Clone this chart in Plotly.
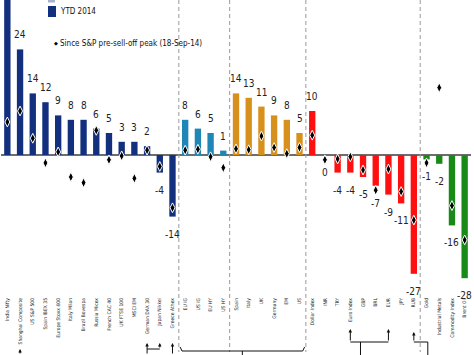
import plotly.graph_objects as go

# ---------------- data ----------------
categories = [
    "India Nifty", "Shanghai Composite", "US S&P 500", "Spain IBEX 35", "Europe Stoxx 600",
    "Italy Milan", "Brazil Bovespa", "Russia Micex", "French CAC 40", "UK FTSE 100",
    "MSCI EM", "German DAX 30", "Japan Nikkei", "Greece Athex",
    "EU IG", "US IG", "EU HY", "US HY",
    "Spain", "Italy", "UK", "Germany", "EM", "US",
    "Dollar Index", "INR", "TRY", "Euro Index", "GBP", "BRL", "EUR", "JPY", "RUB",
    "Gold", "Industrial Metals", "Commodity Index", "Brent Oil",
]
groups = (["Equities"] * 14 + ["Credit"] * 4 + ["Govt bonds"] * 6
          + ["FX"] * 9 + ["Commodities"] * 4)
ytd_2014 = [36, 24, 14, 12, 9, 8, 8, 6, 5, 3, 3, 2, -4, -14,
            8, 6, 5, 1,
            14, 13, 11, 9, 8, 5,
            10, 0, -4, -4, -5, -7, -9, -11, -27,
            -1, -2, -16, -28]
since_peak = [7.5, 10, 3.8, -1.8, 0.7, -5, -6.3, 5.6, -1.1, -0.2, -5.3, 1.1, -2.6, -12,
              1.1, 1.3, -0.4, -2.9,
              1.4, 1.2, 4.3, 1.7, 0.3, 1.7,
              4.5, -1.1, -0.9, -0.4, -3.4, -8, -3.2, -8.3, -14.8,
              -1.8, 15.3, -11.5, -19.3]
group_colors = {
    "Equities": "#13307f",
    "Credit": "#1f86b6",
    "Govt bonds": "#d8901c",
    "FX": "#ff1010",
    "Commodities": "#178a17",
}
legend_ytd = "YTD 2014"
legend_peak = "Since S&P pre-sell-off peak (18-Sep-14)"

# ---------------- layout constants ----------------
W, H = 474, 355
ML, MR, MT, MB = 1, 3, 0, 59
PW, PH = W - ML - MR, H - MT - MB
FONT = "Liberation Sans Narrow, Arial Narrow, DejaVu Sans Condensed, sans-serif"


def px_x(p):
    return (p - ML) / PW


def px_y(p):
    return (MT + PH - p) / PH


xs = list(range(len(categories)))

fig = go.Figure()
fig.add_trace(go.Bar(
    x=xs, y=ytd_2014, width=0.5,
    marker=dict(color=[group_colors[g] for g in groups], line=dict(width=0)),
    showlegend=False, hoverinfo="skip",
))
fig.add_trace(go.Scatter(
    x=xs, y=since_peak, mode="markers",
    marker=dict(symbol="diamond-tall", size=7, color="black",
                line=dict(color="white", width=1)),
    showlegend=False, hoverinfo="skip",
))

annotations = []
# value labels
for x, v in zip(xs, ytd_2014):
    pos = v > 0
    annotations.append(dict(
        x=x, y=v, xref="x", yref="y", text=str(v), showarrow=False,
        yanchor="bottom" if pos else "top", yshift=7 if pos else -10,
        font=dict(family=FONT, size=10, color="#222"),
    ))

shapes = []
# dashed separators between groups
for i in range(1, len(groups)):
    if groups[i] != groups[i - 1]:
        shapes.append(dict(type="line", xref="x", yref="paper",
                           x0=i - 0.5, x1=i - 0.5, y0=1, y1=px_y(352),
                           line=dict(color="#9a9a9a", width=1, dash="4px,3px")))

# manual legend
shapes.append(dict(type="rect", xref="paper", yref="paper",
                   x0=px_x(48), x1=px_x(55), y0=px_y(2.5), y1=px_y(-4),
                   fillcolor="#a7b1cf", line=dict(width=0)))
shapes.append(dict(type="rect", xref="paper", yref="paper",
                   x0=px_x(48), x1=px_x(56), y0=px_y(17), y1=px_y(6),
                   fillcolor="#13307f", line=dict(width=0)))
annotations.append(dict(xref="paper", yref="paper", x=px_x(58), y=px_y(11.5),
                        xanchor="left", yanchor="middle", showarrow=False,
                        text=legend_ytd, font=dict(family=FONT, size=8, color="#111")))
annotations.append(dict(xref="paper", yref="paper", x=px_x(55.7), y=px_y(43),
                        xanchor="center", yanchor="middle", showarrow=False,
                        text="\u25c6", font=dict(family="DejaVu Sans", size=5, color="#000")))
annotations.append(dict(xref="paper", yref="paper", x=px_x(58), y=px_y(43),
                        xanchor="left", yanchor="middle", showarrow=False,
                        text=legend_peak, font=dict(family=FONT, size=8, color="#111")))

# bracket / arrow decorations below the axis labels
LC = "#111"


def seg(x0, y0, x1, y1):
    shapes.append(dict(type="line", xref="x", yref="paper",
                       x0=x0, x1=x1, y0=px_y(y0), y1=px_y(y1),
                       line=dict(color=LC, width=1)))


def arrow(x, yhead, ytail):
    annotations.append(dict(x=x, y=px_y(yhead), xref="x", yref="paper", text="",
                            showarrow=True, ax=0, ay=ytail - yhead,
                            arrowhead=2, arrowsize=0.7, arrowwidth=1, arrowcolor=LC))


arrow(1, 349, 362)
arrow(11, 343, 362)
arrow(12, 343, 349)
seg(11, 349, 12, 349)
arrow(13, 343, 362)
# brace under credit + govt bonds
seg(13.6, 347, 13.75, 351)
seg(13.75, 351, 23.25, 351)
seg(23.25, 351, 23.4, 347)
seg(18.5, 351, 18.5, 360)
# FX
arrow(27, 329, 342)
arrow(30, 329, 342)
seg(27, 342, 30, 342)
seg(27.8, 342, 27.8, 360)
arrow(32, 332, 342)
seg(32, 342, 33.1, 342)
seg(33.1, 342, 33.1, 360)

fig.update_layout(
    width=W, height=H,
    margin=dict(l=ML, r=MR, t=MT, b=MB, pad=0),
    paper_bgcolor="white", plot_bgcolor="white",
    showlegend=False,
    bargap=0.5,
    xaxis=dict(
        range=[-0.5, len(categories) - 0.5],
        tickmode="array", tickvals=xs, ticktext=categories,
        tickangle=-90, tickfont=dict(family=FONT, size=5, color="#222"),
        showgrid=False, zeroline=False, showline=False, ticks="",
        automargin=False, fixedrange=True,
    ),
    yaxis=dict(
        range=[-(PH - 155) / 4.4, 155 / 4.4],
        showticklabels=False, showgrid=False, ticks="",
        zeroline=True, zerolinecolor="#6e6e6e", zerolinewidth=1.5,
        showline=False, automargin=False, fixedrange=True,
    ),
    shapes=shapes,
    annotations=annotations,
)

fig.write_html(
    "out.html",
    config={"displayModeBar": False},
    post_script="document.body.style.margin='0';document.body.style.overflow='hidden';",
)
